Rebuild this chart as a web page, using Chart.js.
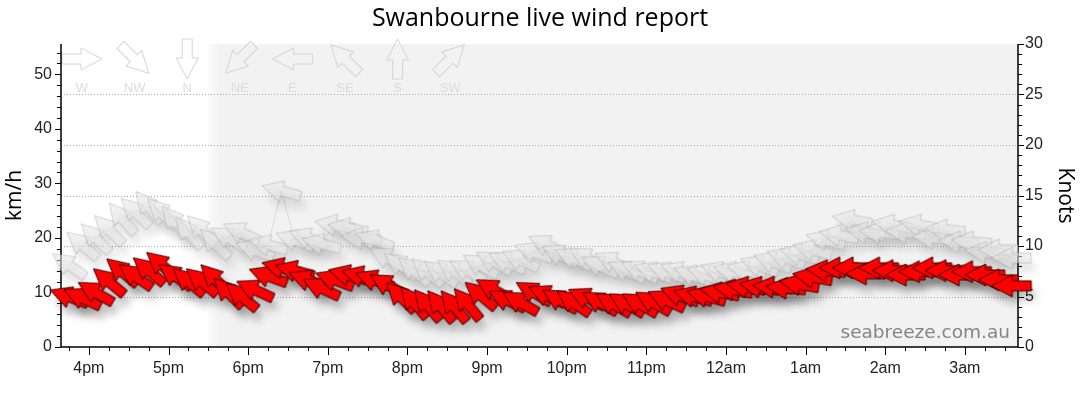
<!DOCTYPE html>
<html>
<head>
<meta charset="utf-8">
<title>Swanbourne live wind report</title>
<script src="https://cdn.jsdelivr.net/npm/chart.js@4.4.1/dist/chart.umd.min.js"></script>
<style>
  html, body { margin: 0; padding: 0; background: #fff; }
  #wrap { width: 1080px; height: 414px; }
</style>
</head>
<body>
<div id="wrap"><canvas id="chart"></canvas></div>
<script>
// observation times, every 10 minutes
const times = [
  "15:45", "15:55", "16:05", "16:15", "16:25", "16:35", "16:45", "16:55", "17:05", "17:15", "17:25", "17:35",
  "17:45", "17:55", "18:05", "18:15", "18:25", "18:35", "18:45", "18:55", "19:05", "19:15", "19:25", "19:35",
  "19:45", "19:55", "20:05", "20:15", "20:25", "20:35", "20:45", "20:55", "21:05", "21:15", "21:25", "21:35",
  "21:45", "21:55", "22:05", "22:15", "22:25", "22:35", "22:45", "22:55", "23:05", "23:15", "23:25", "23:35",
  "23:45", "23:55", "00:05", "00:15", "00:25", "00:35", "00:45", "00:55", "01:05", "01:15", "01:25", "01:35",
  "01:45", "01:55", "02:05", "02:15", "02:25", "02:35", "02:45", "02:55", "03:05", "03:15", "03:25", "03:35",
];

// average wind, km/h
const windKmh = [
  9.2, 9.0, 10.0, 12.0, 13.8, 13.0, 14.0, 15.0, 13.0, 12.0, 12.0, 12.5,
  10.0, 9.3, 10.5, 13.0, 14.5, 14.0, 12.3, 10.8, 12.3, 13.2, 13.0, 12.3,
  11.4, 9.2, 8.2, 7.7, 7.5, 7.5, 7.9, 9.5, 10.5, 8.6, 8.2, 10.0,
  9.5, 8.6, 8.2, 9.0, 8.2, 7.9, 7.9, 7.9, 8.2, 8.6, 9.5, 9.3,
  9.3, 10.0, 10.5, 11.0, 11.0, 11.0, 10.8, 11.5, 12.8, 14.0, 14.5, 14.5,
  13.4, 14.5, 14.0, 13.2, 13.8, 14.5, 14.0, 13.2, 13.8, 13.2, 12.3, 11.2,
];

// gusts, km/h
const gustKmh = [
  15.0, 18.7, 20.0, 21.5, 23.6, 24.7, 25.7, 24.6, 23.0, 21.0, 21.5, 19.0,
  20.0, 21.0, 17.8, 18.7, 28.6, 19.6, 20.0, 18.9, 22.4, 21.8, 20.0, 19.6,
  16.3, 15.0, 14.0, 13.8, 13.6, 13.8, 14.0, 15.0, 15.6, 15.6, 16.0, 17.4,
  18.7, 16.9, 16.3, 16.3, 14.9, 15.6, 14.0, 14.0, 13.8, 13.8, 13.8, 13.2,
  13.2, 13.8, 13.8, 14.0, 14.9, 15.6, 16.3, 17.0, 17.8, 19.6, 20.5, 23.3,
  21.0, 21.0, 22.4, 21.0, 22.4, 20.0, 21.5, 19.3, 19.3, 17.4, 17.8, 16.3,
];

// direction the wind comes from, degrees
const windDir = [
  110, 115, 120, 130, 130, 125, 130, 130, 125, 130, 130, 135,
  135, 130, 115, 110, 105, 105, 110, 115, 110, 105, 105, 110,
  120, 135, 140, 140, 140, 140, 140, 130, 120, 115, 120, 120,
  115, 120, 125, 115, 120, 120, 120, 120, 120, 115, 110, 105,
  105, 100, 100, 100, 100, 95, 95, 100, 100, 95, 90, 90,
  90, 90, 90, 90, 90, 90, 90, 90, 90, 90, 90, 90,
];

const gustDir = [
  125, 130, 135, 135, 140, 135, 140, 135, 140, 140, 135, 135,
  120, 115, 110, 105, 105, 110, 110, 105, 100, 100, 95, 110,
  120, 125, 130, 130, 125, 125, 120, 120, 120, 115, 115, 110,
  115, 115, 115, 120, 115, 115, 115, 115, 110, 110, 110, 110,
  110, 110, 105, 105, 110, 110, 110, 105, 105, 105, 100, 100,
  100, 95, 100, 95, 100, 95, 95, 95, 95, 95, 90, 90,
];

const compassLabels = ["W", "NW", "N", "NE", "E", "SE", "S", "SW"];
const compassDeg = [270, 315, 0, 45, 90, 135, 180, 225];
const knotLines = [5, 10, 15, 20, 25];
const kmhTicks = [0, 10, 20, 30, 40, 50];
const knotTicks = [0, 5, 10, 15, 20, 25, 30];
const hourTicks = [16, 17, 18, 19, 20, 21, 22, 23, 24, 25, 26, 27];
const sunset = "17:27";

const KMH_PER_KNOT = 1.852;

function toHours(s) {
  const [h, m] = s.split(":").map(Number);
  return (h < 12 ? h + 24 : h) + m / 60;
}
const hours = times.map(toHours);

function hourLabel(v) {
  const h = Math.round(v) % 24;
  return (h % 12 || 12) + (h < 12 ? "am" : "pm");
}

// arrow pointing right, centred on (cx, cy)
function arrowPath(ctx, cx, cy) {
  ctx.beginPath();
  ctx.moveTo(cx - 20, cy - 5);
  ctx.lineTo(cx - 1, cy - 5);
  ctx.lineTo(cx - 1, cy - 11);
  ctx.lineTo(cx + 20, cy);
  ctx.lineTo(cx - 1, cy + 11);
  ctx.lineTo(cx - 1, cy + 5);
  ctx.lineTo(cx - 20, cy + 5);
  ctx.closePath();
}

function makeArrow(fill, stroke) {
  const c = document.createElement("canvas");
  c.width = 46;
  c.height = 46;
  const g = c.getContext("2d");
  arrowPath(g, 23, 23);
  g.fillStyle = fill;
  g.fill();
  g.lineWidth = 1;
  g.strokeStyle = stroke;
  g.stroke();
  return c;
}

function makeShadow(color, blur) {
  const c = document.createElement("canvas");
  c.width = 80;
  c.height = 80;
  const g = c.getContext("2d");
  g.shadowColor = color;
  g.shadowBlur = blur;
  g.shadowOffsetX = 1000;
  arrowPath(g, 40 - 1000, 40);
  g.fillStyle = "#000";
  g.fill();
  return c;
}

const windImg = makeArrow("#ff0000", "#3a0000");
const gustImg = makeArrow("rgba(230,230,230,0.55)", "rgba(150,150,150,0.4)");
const windShadow = makeShadow("rgba(0,0,0,0.26)", 8);
const gustShadow = makeShadow("rgba(0,0,0,0.11)", 8);

const pts = (vals) => hours.map((x, i) => ({ x: x, y: vals[i] }));
const rot = (dirs) => (c) => dirs[c.dataIndex] + 90;
const fixTicks = (list) => (s) => {
  s.ticks = list.map((v) => ({ value: v }));
};

const decor = {
  id: "decor",
  beforeDraw(chart) {
    const { ctx, chartArea: a, scales } = chart;
    const x0 = scales.x.getPixelForValue(toHours(sunset));
    const grad = ctx.createLinearGradient(x0, 0, x0 + 16, 0);
    grad.addColorStop(0, "rgba(242,242,242,0)");
    grad.addColorStop(1, "rgba(242,242,242,1)");
    ctx.save();
    ctx.fillStyle = grad;
    ctx.fillRect(x0, a.top, a.right - x0, a.bottom - a.top);
    ctx.restore();
  },
  beforeDatasetsDraw(chart) {
    const { ctx, chartArea: a, scales } = chart;
    ctx.save();

    // dotted knot lines
    ctx.strokeStyle = "#a8a8a8";
    ctx.lineWidth = 1;
    ctx.setLineDash([1, 2]);
    knotLines.forEach((k) => {
      const y = Math.round(scales.y2.getPixelForValue(k)) + 0.5;
      ctx.beginPath();
      ctx.moveTo(a.left, y);
      ctx.lineTo(a.right, y);
      ctx.stroke();
    });
    ctx.setLineDash([]);

    // compass key
    compassLabels.forEach((lab, i) => {
      const cx = a.left + 21 + i * 52.6;
      const cy = a.top + 15;
      ctx.save();
      ctx.translate(cx, cy);
      ctx.rotate(((compassDeg[i] + 90) * Math.PI) / 180);
      arrowPath(ctx, 0, 0);
      ctx.strokeStyle = "#d4d4d4";
      ctx.lineWidth = 1;
      ctx.stroke();
      ctx.restore();
      ctx.fillStyle = "#dcdcdc";
      ctx.font = '13px "Liberation Sans"';
      ctx.textAlign = "center";
      ctx.textBaseline = "middle";
      ctx.fillText(lab, cx, a.top + 44);
    });

    // watermark
    ctx.fillStyle = "#858585";
    ctx.font = '18.5px "DejaVu Sans"';
    ctx.textAlign = "right";
    ctx.textBaseline = "alphabetic";
    ctx.fillText("seabreeze.com.au", a.right - 8, a.bottom - 9);

    // axis lines and tick marks
    ctx.strokeStyle = "#000";
    ctx.lineWidth = 1.5;
    ctx.beginPath();
    ctx.moveTo(a.left, a.top);
    ctx.lineTo(a.left, a.bottom);
    ctx.lineTo(a.right, a.bottom);
    ctx.lineTo(a.right, a.top);
    ctx.stroke();

    ctx.lineWidth = 1;
    ctx.beginPath();
    for (let v = 0; v <= scales.y.max; v += 2) {
      const y = Math.round(scales.y.getPixelForValue(v)) + 0.5;
      ctx.moveTo(a.left, y);
      ctx.lineTo(a.left - (v % 10 === 0 ? 6 : 4), y);
    }
    for (let k = 0; k <= scales.y2.max; k += 1) {
      const y = Math.round(scales.y2.getPixelForValue(k)) + 0.5;
      ctx.moveTo(a.right, y);
      ctx.lineTo(a.right + (k % 5 === 0 ? 6 : 4), y);
    }
    for (let q = Math.ceil(scales.x.min * 4); q <= scales.x.max * 4; q++) {
      const x = Math.round(scales.x.getPixelForValue(q / 4)) + 0.5;
      ctx.moveTo(x, a.bottom);
      ctx.lineTo(x, a.bottom + (q % 4 === 0 ? 8 : 4));
    }
    ctx.stroke();
    ctx.restore();
  },
  beforeDatasetDraw(chart, args) {
    if (chart.data.datasets[args.index].isShadow) {
      chart.ctx.save();
      chart.ctx.translate(4, 9);
    }
  },
  afterDatasetDraw(chart, args) {
    if (chart.data.datasets[args.index].isShadow) {
      chart.ctx.restore();
    }
  },
};

const tickFont = { family: "Liberation Sans", size: 16 };
const titleFont = { family: "Open Sans", size: 21 };

new Chart("chart", {
  type: "line",
  data: {
    datasets: [
      {
        label: "gust shadow",
        isShadow: true,
        data: pts(gustKmh),
        showLine: false,
        pointStyle: gustShadow,
        pointRotation: rot(gustDir),
        pointRadius: 4,
        clip: false,
        order: 4,
      },
      {
        label: "Gust",
        data: pts(gustKmh),
        showLine: true,
        borderColor: "rgba(0,0,0,0.1)",
        borderWidth: 1,
        pointStyle: gustImg,
        pointRotation: rot(gustDir),
        pointRadius: 4,
        clip: false,
        order: 3,
      },
      {
        label: "wind shadow",
        isShadow: true,
        data: pts(windKmh),
        showLine: false,
        pointStyle: windShadow,
        pointRotation: rot(windDir),
        pointRadius: 4,
        clip: false,
        order: 2,
      },
      {
        label: "Wind",
        data: pts(windKmh),
        showLine: false,
        pointStyle: windImg,
        pointRotation: rot(windDir),
        pointRadius: 4,
        clip: false,
        order: 1,
      },
    ],
  },
  options: {
    responsive: true,
    maintainAspectRatio: false,
    animation: false,
    events: [],
    layout: { padding: 0 },
    plugins: {
      legend: { display: false },
      tooltip: { enabled: false },
      title: {
        display: true,
        text: "Swanbourne live wind report",
        color: "#000",
        font: { family: "Open Sans", size: 25, weight: "normal" },
        padding: { top: 4, bottom: 10 },
      },
    },
    scales: {
      x: {
        type: "linear",
        min: 15.65,
        max: 27.667,
        grid: { display: false, drawTicks: false },
        border: { display: false },
        ticks: {
          autoSkip: false,
          padding: 12,
          color: "#222",
          font: tickFont,
          maxRotation: 0,
          callback: (v) => hourLabel(v),
        },
        afterBuildTicks: fixTicks(hourTicks),
        afterFit: (s) => {
          s.height = 67;
        },
      },
      y: {
        position: "left",
        min: 0,
        max: 30 * KMH_PER_KNOT,
        grid: { display: false, drawTicks: false },
        border: { display: false },
        ticks: { autoSkip: false, padding: 9, color: "#222", font: tickFont },
        afterBuildTicks: fixTicks(kmhTicks),
        title: { display: true, text: "km/h", color: "#000", font: titleFont, padding: { top: 2, bottom: 0 } },
        afterFit: (s) => {
          s.width = 61;
        },
      },
      y2: {
        position: "right",
        min: 0,
        max: 30,
        grid: { display: false, drawTicks: false },
        border: { display: false },
        ticks: { autoSkip: false, padding: 7, color: "#222", font: tickFont },
        afterBuildTicks: fixTicks(knotTicks),
        title: { display: true, text: "Knots", color: "#000", font: titleFont, padding: { top: 2, bottom: 0 } },
        afterFit: (s) => {
          s.width = 62;
        },
      },
    },
  },
  plugins: [decor],
});
</script>
</body>
</html>
